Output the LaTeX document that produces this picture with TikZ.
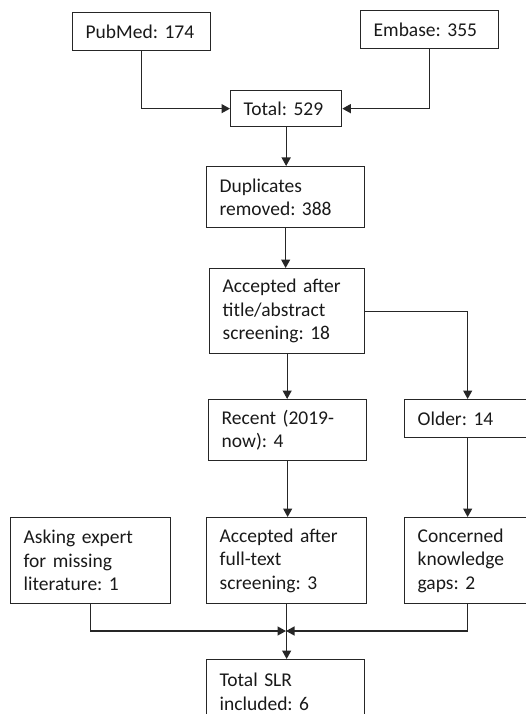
\documentclass[tikz,border=0pt]{standalone}
\usepackage{fontspec}
\setmainfont{Carlito}
\usetikzlibrary{arrows.meta}
\begin{document}
\frenchspacing
\begin{tikzpicture}[x=1pt,y=-1pt,
  box/.style={draw=black!85, line width=1.3pt, rectangle, anchor=north west,
    inner xsep=13pt, inner ysep=0pt, align=left,
    font=\fontsize{19.5}{23.5}\selectfont\frenchspacing, text=black!90},
  arr/.style={draw=black!85, line width=1.3pt, -{Triangle[width=9pt,length=8.5pt]}},
  ln/.style={draw=black!85, line width=1.3pt}]
\useasboundingbox (0,0) rectangle (525,714);
\node[box, minimum width=138pt, minimum height=38pt, text width=112pt] (pub) at (72,12) {PubMed: 174};
\node[box, minimum width=138pt, minimum height=38pt, text width=112pt] (emb) at (360,10) {Embase: 355};
\node[box, minimum width=111pt, minimum height=36pt, text width=85pt] (tot) at (230,90) {Total: 529};
\node[box, minimum width=158pt, minimum height=61pt, text width=132pt] (dup) at (206,166) {Duplicates\\removed: 388};
\node[box, minimum width=155pt, minimum height=85pt, text width=129pt] (acc) at (209,268) {Accepted after\\title/abstract\\screening: 18};
\node[box, minimum width=158pt, minimum height=61pt, text width=132pt] (rec) at (208,399) {Recent (2019-\\now): 4};
\node[box, minimum width=126pt, minimum height=38pt, text width=100pt] (old) at (404,399) {Older: 14};
\node[box, minimum width=160pt, minimum height=86pt, text width=134pt] (ask) at (10,517) {Asking expert\\for missing\\literature: 1};
\node[box, minimum width=160pt, minimum height=86pt, text width=134pt] (full) at (206,517) {Accepted after\\full-text\\screening: 3};
\node[box, minimum width=126pt, minimum height=86pt, text width=100pt] (con) at (404,517) {Concerned\\knowledge\\gaps: 2};
\node[box, minimum width=158pt, minimum height=64pt, text width=132pt] (slr) at (206,659) {Total SLR\\included: 6};
\coordinate (j) at (286,631);
\draw[arr] (pub.south) |- (tot.west);
\draw[arr] (emb.south) |- (tot.east);
\draw[arr] (tot.south) -- (tot.south |- dup.north);
\draw[arr] (dup.south) -- (dup.south |- acc.north);
\draw[arr] (acc.east) -| (old.north);
\draw[arr] (acc.south) -- (acc.south |- rec.north);
\draw[arr] (rec.south) -- (rec.south |- full.north);
\draw[arr] (old.south) -- (con.north);
\draw[arr] (ask.south) |- (j);
\draw[arr] (con.south) |- (j);
\draw[arr] (full.south) -- (full.south |- slr.north);
\end{tikzpicture}
\end{document}
